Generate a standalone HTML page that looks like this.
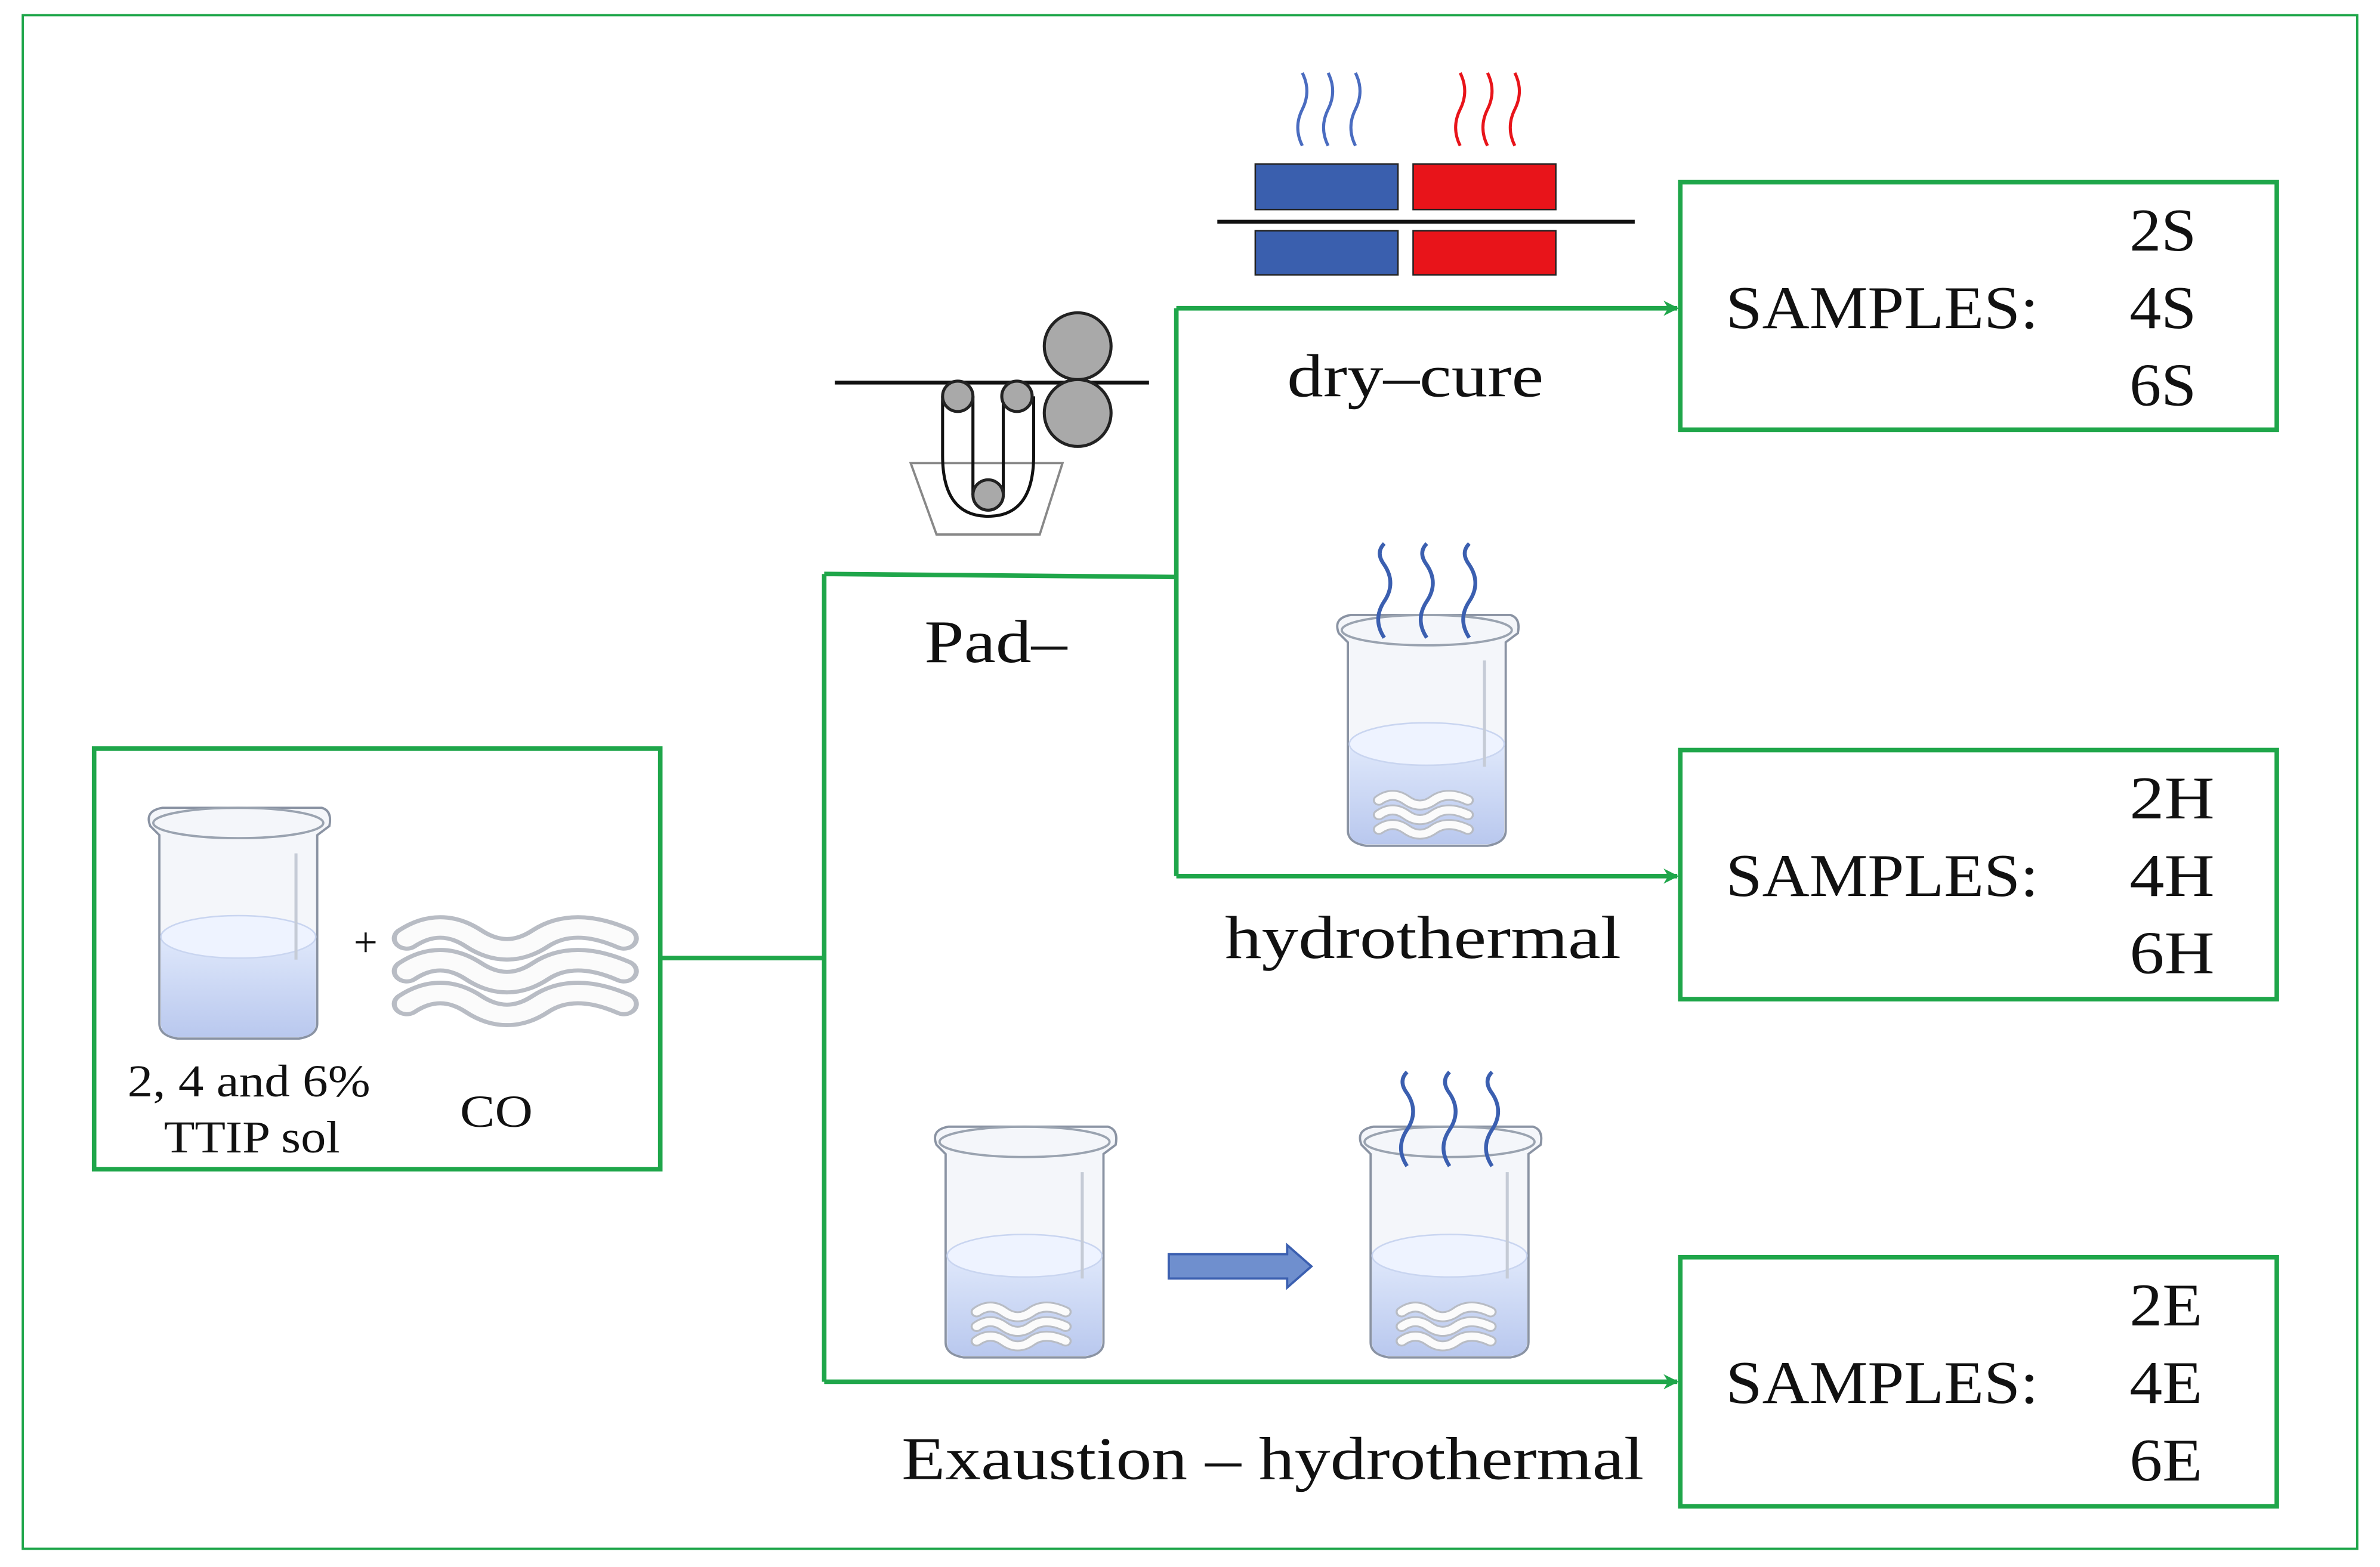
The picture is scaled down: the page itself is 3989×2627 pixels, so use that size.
<!DOCTYPE html>
<html><head><meta charset="utf-8"><style>
html,body{margin:0;padding:0;background:#fff;}
svg{display:block;}
text{font-family:"Liberation Serif",serif;fill:#111;}
</style></head><body>
<svg width="3989" height="2627" viewBox="0 0 1568 1032" preserveAspectRatio="none" xmlns="http://www.w3.org/2000/svg">
<defs>
<marker id="ar" markerWidth="10" markerHeight="10" refX="9" refY="5" orient="auto" markerUnits="userSpaceOnUse">
<path d="M0,0 L10,5 L0,10 L3,5 Z" fill="#1fa64a"/></marker>
<linearGradient id="wat" x1="0" y1="0" x2="0" y2="1">
<stop offset="0" stop-color="#dfe8fb"/><stop offset="1" stop-color="#b9c8ee"/></linearGradient>
<g id="beaker">
<path d="M-58,-68 Q-62,-78 -50,-80 L55,-80 Q62,-78 60,-68 L52,-62 L52,62 Q52,70 40,72 L-40,72 Q-52,70 -52,62 L-52,-62 Z" fill="#f4f6fa" stroke="#8a93a3" stroke-width="1.5"/>
<ellipse cx="0" cy="-70" rx="56" ry="10" fill="none" stroke="#9aa3b0" stroke-width="1.5"/>
<path d="M-51,5 L51,5 L51,62 Q51,70 40,71 L-40,71 Q-51,70 -51,62 Z" fill="url(#wat)"/>
<ellipse cx="0" cy="5" rx="51" ry="14" fill="#eef3ff" stroke="#c9d5f0"/>
<line x1="38" y1="-50" x2="38" y2="20" stroke="#c5cbd6" stroke-width="2"/>
</g>
<g id="fab">
<path d="M-35,-10 q10,-8 20,0 q10,8 20,0 q10,-8 25,0 M-35,2 q10,-8 20,0 q10,8 20,0 q10,-8 25,0 M-35,14 q10,-8 20,0 q10,8 20,0 q10,-8 25,0" fill="none" stroke="#b8bcc4" stroke-width="9" stroke-linecap="round"/>
<path d="M-35,-10 q10,-8 20,0 q10,8 20,0 q10,-8 25,0 M-35,2 q10,-8 20,0 q10,8 20,0 q10,-8 25,0 M-35,14 q10,-8 20,0 q10,8 20,0 q10,-8 25,0" fill="none" stroke="#fbfbfb" stroke-width="6" stroke-linecap="round"/>
</g>
<g id="steam" fill="none" stroke="#3b5fb0" stroke-width="2.5">
<path d="M-28,0 q-8,-12 0,-24 q8,-12 0,-24 q-6,-8 0,-14"/>
<path d="M0,0 q-8,-12 0,-24 q8,-12 0,-24 q-6,-8 0,-14"/>
<path d="M28,0 q-8,-12 0,-24 q8,-12 0,-24 q-6,-8 0,-14"/>
</g>
</defs>
<rect x="15" y="10" width="1538" height="1010" fill="none" stroke="#1fa64a" stroke-width="1.5"/>
<!-- left box -->
<rect x="62" y="493" width="373" height="277" fill="none" stroke="#1fa64a" stroke-width="3"/>
<use href="#beaker" x="157" y="612"/>
<text x="233" y="630" font-size="28">+</text>
<g transform="translate(345,636) scale(2.2,1.8)"><use href="#fab"/></g>
<text x="84" y="722" font-size="30" textLength="160" lengthAdjust="spacingAndGlyphs">2, 4 and 6%</text>
<text x="108" y="759" font-size="30" textLength="116" lengthAdjust="spacingAndGlyphs">TTIP sol</text>
<text x="303" y="742" font-size="30" textLength="48" lengthAdjust="spacingAndGlyphs">CO</text>
<!-- connectors -->
<g stroke="#1fa64a" stroke-width="3" fill="none">
<path d="M435,631 H543 M543,378 V910 M543,378 L775,380 M775,203 V577"/>
<line x1="775" y1="203" x2="1105" y2="203" marker-end="url(#ar)"/>
<line x1="775" y1="577" x2="1105" y2="577" marker-end="url(#ar)"/>
<line x1="543" y1="910" x2="1105" y2="910" marker-end="url(#ar)"/>
</g>
<!-- sample boxes -->
<g fill="none" stroke="#1fa64a" stroke-width="3">
<rect x="1107" y="120" width="393" height="163"/>
<rect x="1107" y="494" width="393" height="164"/>
<rect x="1107" y="828" width="393" height="164"/>
</g>
<g font-size="40" lengthAdjust="spacingAndGlyphs">
<text x="1137" y="216" textLength="206" lengthAdjust="spacingAndGlyphs">SAMPLES:</text><text x="1403" y="165" textLength="44" lengthAdjust="spacingAndGlyphs">2S</text><text x="1403" y="216" textLength="44" lengthAdjust="spacingAndGlyphs">4S</text><text x="1403" y="267" textLength="44" lengthAdjust="spacingAndGlyphs">6S</text>
<text x="1137" y="590" textLength="206" lengthAdjust="spacingAndGlyphs">SAMPLES:</text><text x="1403" y="539" textLength="56" lengthAdjust="spacingAndGlyphs">2H</text><text x="1403" y="590" textLength="56" lengthAdjust="spacingAndGlyphs">4H</text><text x="1403" y="641" textLength="56" lengthAdjust="spacingAndGlyphs">6H</text>
<text x="1137" y="924" textLength="206" lengthAdjust="spacingAndGlyphs">SAMPLES:</text><text x="1403" y="873" textLength="48" lengthAdjust="spacingAndGlyphs">2E</text><text x="1403" y="924" textLength="48" lengthAdjust="spacingAndGlyphs">4E</text><text x="1403" y="975" textLength="48" lengthAdjust="spacingAndGlyphs">6E</text>
<text x="848" y="261" textLength="169" lengthAdjust="spacingAndGlyphs">dry–cure</text>
<text x="609" y="436" textLength="94" lengthAdjust="spacingAndGlyphs">Pad–</text>
<text x="807" y="631" textLength="261" lengthAdjust="spacingAndGlyphs">hydrothermal</text>
<text x="594" y="974" textLength="489" lengthAdjust="spacingAndGlyphs">Exaustion – hydrothermal</text>
</g>
<!-- dry-cure icon -->
<rect x="827" y="108" width="94" height="30" fill="#3a5fae" stroke="#222"/>
<rect x="827" y="152" width="94" height="29" fill="#3a5fae" stroke="#222"/>
<rect x="931" y="108" width="94" height="30" fill="#e8141a" stroke="#222"/>
<rect x="931" y="152" width="94" height="29" fill="#e8141a" stroke="#222"/>
<line x1="802" y1="146" x2="1077" y2="146" stroke="#111" stroke-width="2.5"/>
<g fill="none" stroke-width="2">
<g stroke="#4a6cc0"><path d="M858,96 q-6,-12 0,-24 q6,-12 0,-24"/><path d="M875,96 q-6,-12 0,-24 q6,-12 0,-24"/><path d="M893,96 q-6,-12 0,-24 q6,-12 0,-24"/></g>
<g stroke="#e8141a"><path d="M962,96 q-6,-12 0,-24 q6,-12 0,-24"/><path d="M980,96 q-6,-12 0,-24 q6,-12 0,-24"/><path d="M998,96 q-6,-12 0,-24 q6,-12 0,-24"/></g>
</g>
<!-- pad icon -->
<path d="M600,305 L700,305 L685,352 L617,352 Z" fill="#fff" stroke="#888" stroke-width="1.5"/>
<line x1="550" y1="252" x2="757" y2="252" stroke="#111" stroke-width="2.5"/>
<circle cx="710" cy="228" r="22" fill="#a9a9a9" stroke="#222" stroke-width="2"/>
<circle cx="710" cy="272" r="22" fill="#a9a9a9" stroke="#222" stroke-width="2"/>
<path d="M621,261 V300 Q621,340 651,340 Q681,340 681,300 V261 M641,261 V326 M661,261 V326" fill="none" stroke="#111" stroke-width="2"/>
<circle cx="631" cy="261" r="10" fill="#a9a9a9" stroke="#222" stroke-width="2"/>
<circle cx="670" cy="261" r="10" fill="#a9a9a9" stroke="#222" stroke-width="2"/>
<circle cx="651" cy="326" r="10" fill="#a9a9a9" stroke="#222" stroke-width="2"/>
<!-- hydrothermal beaker -->
<use href="#beaker" x="940" y="485"/>
<g transform="translate(940,535) scale(0.9,0.8)"><use href="#fab"/></g>
<use href="#steam" x="940" y="420"/>
<!-- exhaustion beakers -->
<use href="#beaker" x="675" y="822"/>
<g transform="translate(675,872) scale(0.9,0.8)"><use href="#fab"/></g>
<use href="#beaker" x="955" y="822"/>
<g transform="translate(955,872) scale(0.9,0.8)"><use href="#fab"/></g>
<use href="#steam" x="955" y="768"/>
<path d="M770,826 H848 V820 L864,834 L848,848 V842 H770 Z" fill="#6f8fce" stroke="#3b5fb0" stroke-width="1.5"/>
</svg>
</body></html>
